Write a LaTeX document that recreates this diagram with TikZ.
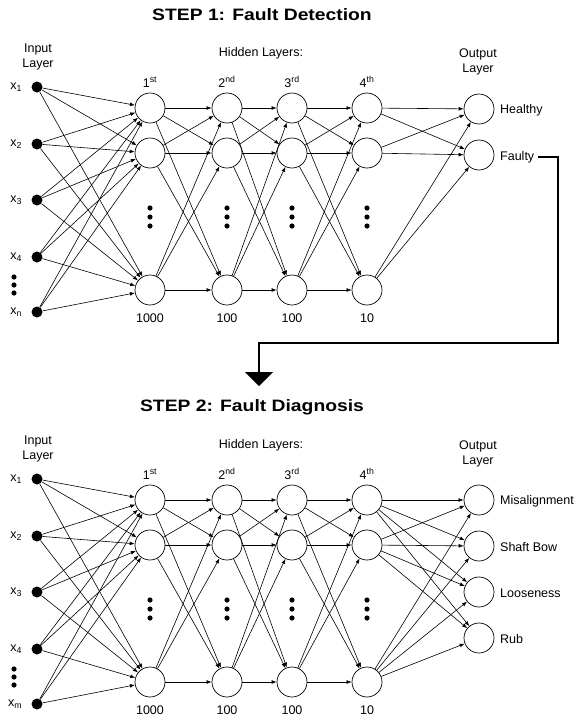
\documentclass[tikz,border=0pt]{standalone}
\usepackage{fontspec}
\setmainfont{Liberation Sans}
\usetikzlibrary{arrows.meta}
\tikzstyle{neuron} = [circle, draw, line width=0.7pt, minimum size=30pt, inner sep=0pt]
\tikzstyle{inunit} = [circle, fill=black, minimum size=11pt, inner sep=0pt]
\tikzstyle{txt} = [font=\fontsize{12.5}{15.5}\selectfont, inner sep=1pt]
\tikzstyle{heading} = [font=\fontsize{16.5}{19}\selectfont\bfseries, xscale=1.17, transform shape]
\tikzstyle{wire} = [-{Latex[length=5pt,width=3.8pt]}, line width=0.6pt]
\tikzstyle{flow} = [-{Triangle[length=14pt,width=28pt]}, line width=1.6pt]

\begin{document}
\begin{tikzpicture}[x=1pt, y=-1pt]
	\useasboundingbox (0,0) rectangle (577,718);

	% Titles
	\node [heading] at (262,15) (title1) {STEP 1: Fault Detection};
	\node [heading] at (252,407) (title2) {STEP 2: Fault Diagnosis};

	% Input and hidden layers, same in both steps
	\foreach \n/\oy/\last in {d/0/n, g/392/m} {
		\node [txt, align=center] at (38,57+\oy) (\n-inhead) {Input\\Layer};
		\node [txt] at (261,53+\oy) (\n-hidhead) {Hidden Layers:};
		\node [txt, align=center] at (478,62+\oy) (\n-outhead) {Output\\Layer};

		\foreach \y/\s [count=\i] in {87/1, 144/2, 200/3, 257/4, 312/\last}
			\node [inunit, label={[txt, label distance=8pt]left:x\textsubscript{\s}}] at (37,\y+\oy) (\n-in\i) {};
		\foreach \y in {277,285,293}
			\fill (14,\y+\oy) circle (2.6pt);

		\foreach \x/\ord/\size [count=\l] in {150/st/1000, 227/nd/100, 292/rd/100, 367/th/10} {
			\node [txt] at (\x,82+\oy) (\n-ord\l) {\l\textsuperscript{\ord}};
			\node [neuron] at (\x,108+\oy) (\n-\l-1) {};
			\node [neuron] at (\x,153+\oy) (\n-\l-2) {};
			\node [neuron] at (\x,290+\oy) (\n-\l-3) {};
			\foreach \y in {208,217,226}
				\fill (\x,\y+\oy) circle (2.6pt);
			\node [txt] at (\x,318+\oy) (\n-size\l) {\size};
		}

		\foreach \i in {1,...,5}
			\foreach \j in {1,2,3}
				\draw [wire] (\n-in\i) -- (\n-1-\j);
		\foreach \l/\m in {1/2, 2/3, 3/4}
			\foreach \i in {1,2,3}
				\foreach \j in {1,2,3}
					\draw [wire] (\n-\l-\i) -- (\n-\m-\j);
	}

	% Output layer, step 1
	\node [neuron] at (479,109) (healthy) {};
	\node [neuron] at (479,155) (faulty) {};
	\node [txt, anchor=west] at (499,110) (healthy-lbl) {Healthy};
	\node [txt, anchor=west] at (499,157) (faulty-lbl) {Faulty};
	\foreach \i in {1,2,3} {
		\draw [wire] (d-4-\i) -- (healthy);
		\draw [wire] (d-4-\i) -- (faulty);
	}

	% Output layer, step 2
	\foreach \y/\lbl [count=\k] in {500/Misalignment, 546/Shaft Bow, 592/Looseness, 638/Rub} {
		\node [neuron] at (479,\y) (g-out\k) {};
		\node [txt, anchor=west] at (499,\y+1) (g-lbl\k) {\lbl};
		\foreach \i in {1,2,3}
			\draw [wire] (g-4-\i) -- (g-out\k);
	}

	% Faulty goes on to step 2
	\coordinate (turn) at (558,343);
	\coordinate (drop) at (259,386);
	\draw [flow] ([xshift=3pt]faulty-lbl.east) -| (turn) -| (drop);
\end{tikzpicture}
\end{document}
